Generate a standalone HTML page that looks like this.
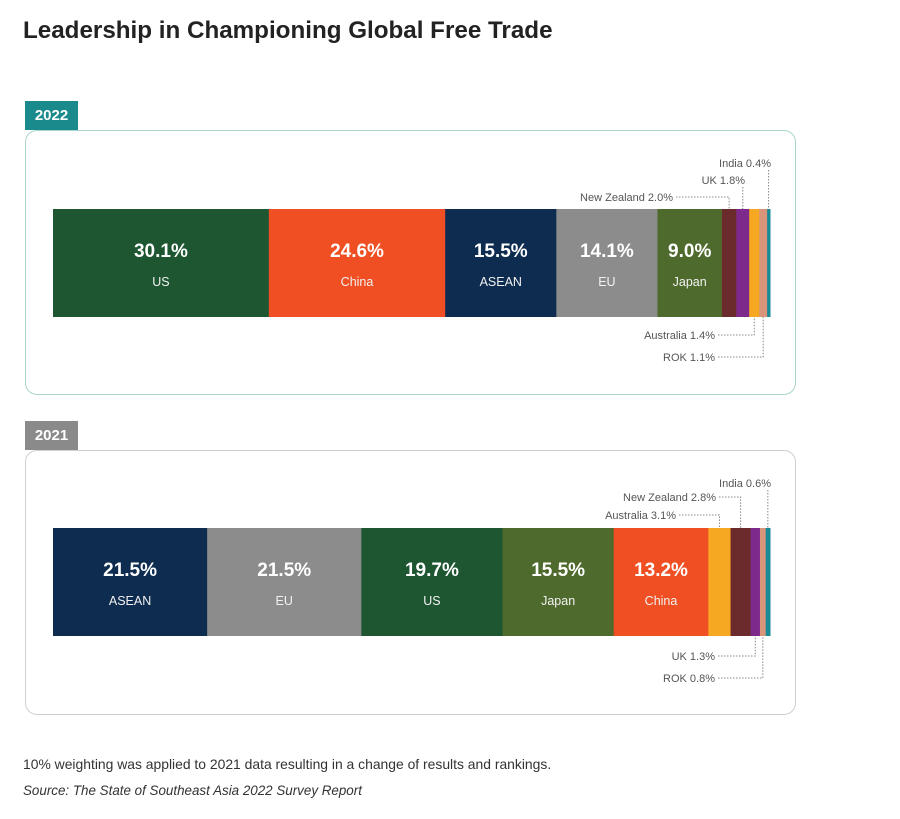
<!DOCTYPE html>
<html><head><meta charset="utf-8"><style>
body{margin:0;width:900px;height:819px;background:#fff;font-family:"Liberation Sans",sans-serif;position:relative;overflow:hidden}
.abs{position:absolute}
h1{position:absolute;left:23px;top:17px;margin:0;font-size:24.2px;font-weight:bold;color:#222}
.panel{position:absolute;left:25px;width:771px;height:265px;border:1.5px solid;border-radius:12px;box-sizing:border-box}
.tab{position:absolute;left:25px;width:53px;height:29px;color:#fff;font-weight:bold;font-size:15px;line-height:29px;text-align:center}
</style></head><body>
<h1>Leadership in Championing Global Free Trade</h1>
<div class="tab" style="top:101px;background:#1b8a8c">2022</div>
<div class="panel" style="top:130px;border-color:#a8d4cc"></div>
<div class="tab" style="top:421px;background:#8a8a8a">2021</div>
<div class="panel" style="top:450px;border-color:#cfcfcf"></div>
<svg id="chart" class="abs" style="left:0;top:0" width="900" height="819"></svg>
<div class="abs" style="left:23px;top:756px;font-size:13.9px;color:#333">10% weighting was applied to 2021 data resulting in a change of results and rankings.</div>
<div class="abs" style="left:23px;top:783px;font-size:13.4px;color:#333;font-style:italic">Source: The State of Southeast Asia 2022 Survey Report</div>
<script>
const cats2022=["US","China","ASEAN","EU","Japan","New Zealand","UK","Australia","ROK","India"];
const vals2022=[30.1,24.6,15.5,14.1,9.0,2.0,1.8,1.4,1.1,0.4];
const cats2021=["ASEAN","EU","US","Japan","China","Australia","New Zealand","UK","ROK","India"];
const vals2021=[21.5,21.5,19.7,15.5,13.2,3.1,2.8,1.3,0.8,0.6];
const colors={"US":"#1e5631","China":"#f04f23","ASEAN":"#0e2c4f","EU":"#8c8c8c","Japan":"#4f6a2d","New Zealand":"#6b2a2c","UK":"#7d2a8c","Australia":"#f7a823","ROK":"#d8957a","India":"#1a8a96"};
const svg=document.getElementById('chart');const NS='http://www.w3.org/2000/svg';
const x0=53,W=717,bh=108;
const xs=v=>v/100*W;
function mk(t,a){const e=document.createElementNS(NS,t);for(const k in a)e.setAttribute(k,a[k]);svg.appendChild(e);return e;}
function draw(cats,vals,y,callouts,year){
  let x=x0;const centers={};
  cats.forEach((c,i)=>{const w=xs(vals[i]);
    const r=mk('rect',{x:x,y:y,width:w+0.5,height:bh,fill:colors[c]});
    
    
    centers[c]=x+w/2;
    if(vals[i]>=5){
      const t=mk('text',{x:x+w/2,y:y+48,'text-anchor':'middle','font-size':19,'font-weight':'bold',fill:'#fff'});t.textContent=vals[i].toFixed(1)+'%';
      
      const l=mk('text',{x:x+w/2,y:y+77,'text-anchor':'middle','font-size':12.5,fill:'#f2f2f2'});l.textContent=c;
      
    }
    x+=w;});
  callouts.forEach(co=>{const i=cats.indexOf(co[0]);const cx=centers[co[0]];const ty=co[1],tr=co[2];
    const t=mk('text',{x:tr,y:ty+4,'text-anchor':'end','font-size':11,fill:'#555'});t.textContent=co[0]+' '+vals[i].toFixed(1)+'%';
    
    const by=ty<y?y:y+bh;const sx=tr+3;
    let d=(cx-sx>4)?`M${sx},${ty} H${cx} V${by}`:`M${cx},${ty+(ty<y?7:-7)} V${by}`;
    const p=mk('path',{d:d,fill:'none',stroke:'#888','stroke-width':1,'stroke-dasharray':'1.5,1.5'});
    
  });
}
draw(cats2022,vals2022,209,[["India",163,771],["UK",180,745],["New Zealand",197,673],["Australia",335,715],["ROK",357,715]],'2022');
draw(cats2021,vals2021,528,[["India",483,771],["New Zealand",497,716],["Australia",515,676],["UK",656,715],["ROK",678,715]],'2021');
</script>
</body></html>
